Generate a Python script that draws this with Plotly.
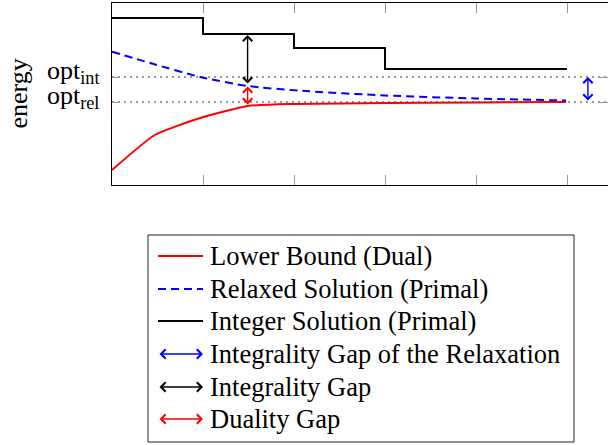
import plotly.graph_objects as go

# ---- data (arbitrary energy units, x = iterations) ----
opt_int = 108
opt_rel = 83
opt_labels = ["opt<sub>int</sub>", "opt<sub>rel</sub>"]
x_ticks = [1, 2, 3, 4, 5]

int_x = [0, 1, 2, 3, 5]
int_y = [167, 151, 137, 116, 116]

relax_x = [0, 0.42, 0.97, 1.49, 2.07, 3.0, 4.0, 4.99]
relax_y = [133.3, 122, 108, 99, 94.3, 89.5, 86.5, 84.5]

lower_x = [0, 0.47, 0.97, 1.49, 2.0, 3.0, 4.0, 4.99]
lower_y = [15, 50, 67, 79, 81, 82, 82.5, 83]

gap_x = 1.49          # where the integrality / duality gaps are shown
gap_int_top = 150     # integer solution at gap_x
gap_relax = 100       # relaxed solution at gap_x
gap_lower = 79        # lower bound at gap_x
relax_gap_x = 5.23    # integrality gap of relaxation shown here

legend_names = ["Lower Bound (Dual)", "Relaxed Solution (Primal)", "Integer Solution (Primal)",
                "Integrality Gap of the Relaxation", "Integrality Gap", "Duality Gap"]
legend_colors = ["red", "blue", "black", "blue", "black", "red"]
legend_kind = ["line", "dash", "line", "arrow", "arrow", "arrow"]

# ---- layout helpers (pixels -> paper) ----
W, H = 608, 445
ML, MR, MT, MB = 112, 0, 3, 260
PW, PH = W - ML - MR, H - MT - MB
def px(x):
    return (x - ML) / PW
def py(y):
    return (MT + PH - y) / PH

FONT = "Liberation Serif"

fig = go.Figure()
fig.add_trace(go.Scatter(x=lower_x, y=lower_y, mode="lines",
                         line=dict(color="red", width=2, shape="spline", smoothing=0.5)))
fig.add_trace(go.Scatter(x=relax_x, y=relax_y, mode="lines",
                         line=dict(color="blue", width=2, dash="8px,5px", shape="spline", smoothing=0.6)))
fig.add_trace(go.Scatter(x=int_x, y=int_y, mode="lines", line=dict(color="black", width=2, shape="hv")))

def darrow(x0, y0, x1, y1, color, **kw):
    fig.add_annotation(x=x1, y=y1, ax=x0, ay=y0, text="", showarrow=True,
                       arrowside="end+start", arrowhead=4, startarrowhead=4,
                       arrowsize=1.3, startarrowsize=1.3, arrowwidth=1.4,
                       arrowcolor=color, standoff=0, startstandoff=0, **kw)

darrow(gap_x, gap_relax, gap_x, gap_int_top, "black", xref="x", yref="y", axref="x", ayref="y")
darrow(gap_x, gap_lower, gap_x, gap_relax - 1.5, "red", xref="x", yref="y", axref="x", ayref="y")
darrow(relax_gap_x, opt_rel, relax_gap_x, opt_int, "blue", xref="x", yref="y", axref="x", ayref="y")

# ---- y tick labels and axis title as text ----
for val, lab in zip([opt_int, opt_rel], opt_labels):
    fig.add_annotation(x=0, y=val, xref="paper", yref="y", text=lab, showarrow=False,
                       xanchor="right", yanchor="middle", xshift=-11, yshift=5,
                       font=dict(family=FONT, size=26, color="black"))
fig.add_annotation(x=px(18), y=py(93.5), xref="paper", yref="paper", text="energy", showarrow=False,
                   textangle=-90, xanchor="center", yanchor="middle",
                   font=dict(family=FONT, size=26, color="black"))

# ---- manual legend ----
shapes = [dict(type="rect", xref="paper", yref="paper", x0=px(148), x1=px(574), y0=py(235), y1=py(442),
               line=dict(color="#222", width=1), fillcolor="white")]
row_y = [256, 289, 321, 354, 387, 419]
for i, name in enumerate(legend_names):
    yy = py(row_y[i])
    if legend_kind[i] in ("line", "dash"):
        shapes.append(dict(type="line", xref="paper", yref="paper", x0=px(158), x1=px(203), y0=yy, y1=yy,
                           line=dict(color=legend_colors[i], width=2,
                                     dash="solid" if legend_kind[i] == "line" else "8px,5px")))
    else:
        fig.add_annotation(x=px(203), y=yy, xref="paper", yref="paper", axref="pixel", ayref="pixel",
                           ax=-45, ay=0, text="", showarrow=True, arrowside="end+start",
                           arrowhead=4, startarrowhead=4, arrowsize=1.3, startarrowsize=1.3,
                           arrowwidth=1.4, arrowcolor=legend_colors[i], standoff=0, startstandoff=0)
    fig.add_annotation(x=px(208), y=yy, xref="paper", yref="paper", text=name, showarrow=False,
                       xanchor="left", yanchor="middle", font=dict(family=FONT, size=26.5, color="black"))

fig.update_layout(
    width=W, height=H, margin=dict(l=ML, r=MR, t=MT, b=MB, pad=0),
    plot_bgcolor="white", paper_bgcolor="white", showlegend=False, shapes=shapes,
    font=dict(family=FONT, color="black"),
)
fig.update_xaxes(range=[0, PW / 91], tickvals=x_ticks, showticklabels=False, ticks="inside",
                 ticklen=10, tickcolor="#999", tickwidth=1.2, showgrid=False, zeroline=False,
                 showline=True, linecolor="black", linewidth=1.3, mirror="ticks")
fig.update_yaxes(range=[0, PH], tickvals=[opt_int, opt_rel], showticklabels=False,
                 ticks="inside", ticklen=8, tickcolor="#999", tickwidth=1.2,
                 showgrid=True, gridcolor="#999", gridwidth=1.5, griddash="1.5px,4.5px",
                 zeroline=False, showline=True, linecolor="black", linewidth=1.3, mirror="ticks")

fig.write_html("out.html", config={"displayModeBar": False},
               post_script="document.body.style.margin='0';document.body.style.overflow='hidden';")
